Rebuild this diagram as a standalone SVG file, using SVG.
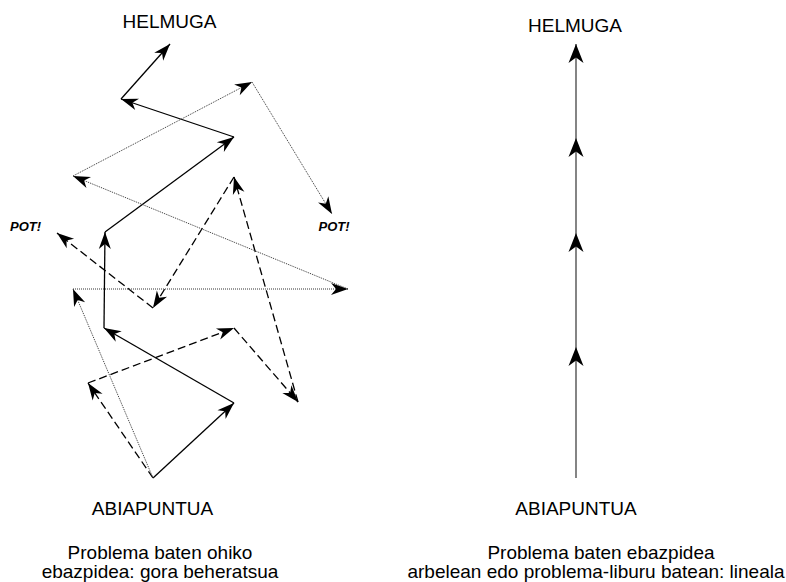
<svg xmlns="http://www.w3.org/2000/svg" width="786" height="582" viewBox="0 0 786 582">
  <style>
    .lbl { font-family: "Liberation Sans", Arial, sans-serif; font-size: 19px; fill: #000; text-anchor: middle; }
    .pot { font-family: "Liberation Sans", Arial, sans-serif; font-size: 13px; font-weight: bold; font-style: italic; fill: #000; text-anchor: middle; }
    .solid { fill: none; stroke: #000; stroke-width: 1.3; marker-end: url(#ah); }
    .dash { fill: none; stroke: #000; stroke-width: 1.3; stroke-dasharray: 8 4; marker-end: url(#ah); }
    .dot { fill: none; stroke: #333; stroke-width: 1; stroke-dasharray: 1 1; marker-end: url(#ah); }
    .axis { fill: none; stroke: #666; stroke-width: 1.6; marker-end: url(#ah2); }
  </style>
  <defs>
    <marker id="ah" viewBox="-18 -7 19 14" refX="0" refY="0" markerWidth="19" markerHeight="14" orient="auto" markerUnits="userSpaceOnUse">
      <path d="M0,0 L-17,-6 L-12,0 L-17,6 Z" fill="#000"/>
    </marker>
    <marker id="ah2" viewBox="-20 -8 21 16" refX="0" refY="0" markerWidth="21" markerHeight="16" orient="auto" markerUnits="userSpaceOnUse">
      <path d="M0,0 L-19,-7.5 L-13.5,0 L-19,7.5 Z" fill="#000"/>
    </marker>
  </defs>

  <g id="connectors">
    <!-- solid path -->
    <line class="solid" x1="153" y1="478" x2="234" y2="403"/>
    <line class="solid" x1="234" y1="403" x2="104" y2="328"/>
    <line class="solid" x1="104" y1="328" x2="105" y2="232"/>
    <line class="solid" x1="105" y1="232" x2="234" y2="137"/>
    <line class="solid" x1="234" y1="137" x2="121" y2="99"/>
    <line class="solid" x1="121" y1="99" x2="170" y2="44"/>
    <!-- dashed path -->
    <line class="dash" x1="153" y1="478" x2="88" y2="383"/>
    <line class="dash" x1="88" y1="383" x2="234" y2="328"/>
    <line class="dash" x1="234" y1="328" x2="298" y2="402"/>
    <line class="dash" x1="298" y1="402" x2="234" y2="177"/>
    <line class="dash" x1="234" y1="177" x2="153" y2="308"/>
    <line class="dash" x1="153" y1="308" x2="57" y2="233"/>
    <!-- dotted path -->
    <line class="dot" x1="153" y1="478" x2="73" y2="289"/>
    <line class="dot" x1="73" y1="289" x2="348" y2="289"/>
    <line class="dot" x1="348" y1="289" x2="73" y2="176"/>
    <line class="dot" x1="73" y1="176" x2="252" y2="82"/>
    <line class="dot" x1="252" y1="82" x2="332" y2="214"/>
    <!-- linear path -->
    <line class="axis" x1="576" y1="478" x2="576" y2="347"/>
    <line class="axis" x1="576" y1="347" x2="576" y2="233"/>
    <line class="axis" x1="576" y1="233" x2="576" y2="138"/>
    <line class="axis" x1="576" y1="138" x2="576" y2="44"/>
  </g>

  <g id="goal-left"><text class="lbl" x="169.5" y="28">HELMUGA</text></g>
  <g id="start-left"><text class="lbl" x="152.5" y="515">ABIAPUNTUA</text></g>
  <g id="pot-left"><text class="pot" x="25.5" y="231">POT!</text></g>
  <g id="pot-right"><text class="pot" x="334" y="231">POT!</text></g>
  <g id="caption-left">
    <text class="lbl" x="160" y="559">Problema baten ohiko</text>
    <text class="lbl" x="160" y="578">ebazpidea: gora beheratsua</text>
  </g>

  <g id="goal-right"><text class="lbl" x="575" y="32">HELMUGA</text></g>
  <g id="start-right"><text class="lbl" x="576" y="515">ABIAPUNTUA</text></g>
  <g id="caption-right">
    <text class="lbl" x="601" y="559">Problema baten ebazpidea</text>
    <text class="lbl" x="596" y="578">arbelean edo problema-liburu batean: lineala</text>
  </g>
</svg>
